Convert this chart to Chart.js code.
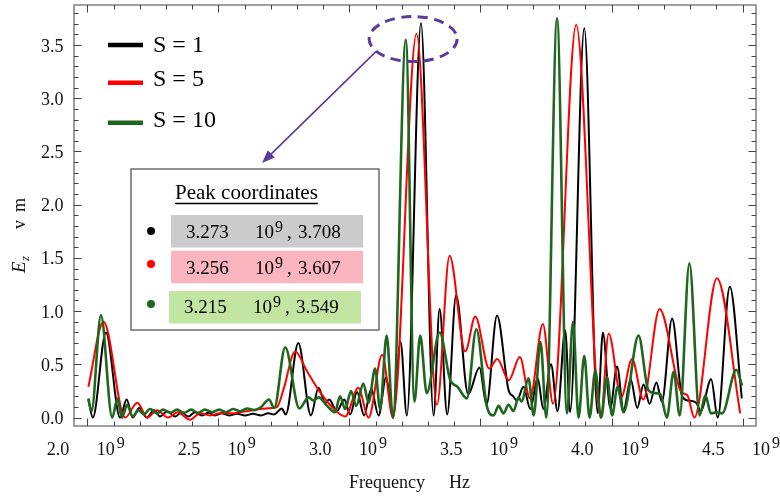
<!DOCTYPE html>
<html lang="en">
<head>
<meta charset="UTF-8">
<title>Ez vs frequency</title>
<style>
  body { margin: 0; background: #ffffff; }
  #wrap { width: 780px; height: 497px; }
</style>
</head>
<body>
<div id="wrap"><canvas id="chart"></canvas></div>
<script src="https://cdn.jsdelivr.net/npm/chart.js"></script>
<script>
// frequency in units of 10^9 Hz, Ez
const freqS1 = [2.004, 2.021, 2.071, 2.125, 2.150, 2.173, 2.198, 2.227, 2.255, 2.277, 2.305, 2.335, 2.360, 2.385,
  2.411, 2.437, 2.462, 2.487, 2.513, 2.541, 2.571, 2.602, 2.632, 2.663, 2.690, 2.713, 2.742, 2.757, 2.805, 2.853,
  2.882, 2.907, 2.923, 2.952, 2.980, 3.003, 3.029, 3.056, 3.083, 3.111, 3.140, 3.166, 3.195, 3.219, 3.273, 3.321,
  3.344, 3.373, 3.407, 3.453, 3.496, 3.523, 3.563, 3.607, 3.625, 3.639, 3.664, 3.690, 3.718, 3.740, 3.769, 3.794,
  3.823, 3.842, 3.896, 3.947, 3.967, 3.995, 4.021, 4.046, 4.073, 4.098, 4.122, 4.145, 4.171, 4.192, 4.231, 4.269,
  4.293, 4.323, 4.340, 4.380, 4.405, 4.451, 4.497];
const ezS1 = [0.17, 0.00, 0.80, 0.00, 0.17, 0.00, 0.09, 0.00, 0.07, 0.01, 0.06, 0.01, 0.05, 0.01,
  0.05, 0.02, 0.045, 0.02, 0.04, 0.02, 0.035, 0.02, 0.035, 0.02, 0.04, 0.03, 0.085, 0.03, 0.70, 0.02,
  0.28, 0.14, 0.17, 0.06, 0.17, 0.03, 0.24, 0.02, 0.27, 0.02, 0.38, 0.00, 0.71, 0.02, 3.708, 0.02,
  1.02, 0.03, 1.15, 0.22, 0.47, 0.12, 0.96, 0.26, 0.20, 0.16, 0.29, 0.08, 0.37, 0.08, 0.50, 0.06,
  0.82, 0.05, 3.66, 0.04, 0.80, 0.09, 0.48, 0.07, 0.36, 0.09, 0.31, 0.13, 0.33, 0.15, 0.93, 0.20,
  0.16, 0.14, 0.06, 0.36, 0.00, 1.23, 0.18];

const freqS5 = [2.004, 2.062, 2.144, 2.191, 2.229, 2.266, 2.308, 2.344, 2.392, 2.430, 2.468, 2.506, 2.552, 2.606,
  2.659, 2.705, 2.724, 2.748, 2.793, 2.837, 2.882, 2.926, 2.984, 3.034, 3.073, 3.125, 3.166, 3.256, 3.334, 3.382,
  3.442, 3.480, 3.533, 3.564, 3.608, 3.650, 3.689, 3.738, 3.777, 3.865, 3.959, 3.989, 4.037, 4.078, 4.121, 4.183,
  4.266, 4.289, 4.316, 4.402, 4.491];
const ezS5 = [0.29, 0.90, 0.00, 0.14, 0.00, 0.07, 0.00, 0.05, -0.02, 0.04, 0.02, 0.04, 0.04, 0.06,
  0.08, 0.09, 0.10, 0.26, 0.62, 0.44, 0.26, 0.12, 0.01, 0.28, 0.00, 0.59, 0.00, 3.607, 0.12, 1.52,
  0.62, 0.95, 0.46, 0.55, 0.35, 0.57, 0.18, 0.88, 0.13, 3.69, 0.00, 0.79, 0.19, 0.55, 0.17, 1.02,
  0.24, 0.21, 0.00, 1.31, 0.04];

const freqS10 = [2.004, 2.016, 2.052, 2.095, 2.115, 2.132, 2.152, 2.173, 2.195, 2.216, 2.239, 2.266, 2.289, 2.316,
  2.342, 2.369, 2.396, 2.422, 2.449, 2.476, 2.503, 2.529, 2.556, 2.583, 2.610, 2.636, 2.663, 2.693, 2.713, 2.755,
  2.809, 2.844, 2.863, 2.882, 2.915, 2.945, 2.964, 2.984, 3.006, 3.026, 3.053, 3.073, 3.098, 3.117, 3.142, 3.166,
  3.215, 3.248, 3.270, 3.295, 3.344, 3.385, 3.412, 3.448, 3.484, 3.524, 3.550, 3.569, 3.588, 3.607, 3.626, 3.645,
  3.657, 3.683, 3.703, 3.729, 3.751, 3.792, 3.830, 3.853, 3.874, 3.896, 3.916, 3.938, 3.960, 3.983, 4.002, 4.023,
  4.046, 4.103, 4.140, 4.163, 4.186, 4.211, 4.237, 4.260, 4.297, 4.336, 4.358, 4.379, 4.403, 4.422, 4.476, 4.498];
const ezS10 = [0.18, 0.06, 0.96, 0.00, 0.18, 0.00, 0.12, 0.01, 0.07, 0.03, 0.08, 0.04, 0.075, 0.045,
  0.075, 0.045, 0.075, 0.045, 0.075, 0.05, 0.075, 0.05, 0.08, 0.06, 0.085, 0.07, 0.10, 0.17, 0.09, 0.66,
  0.085, 0.19, 0.16, 0.19, 0.11, 0.05, 0.20, 0.08, 0.25, 0.11, 0.32, 0.14, 0.46, 0.08, 0.77, 0.00,
  3.549, 0.15, 0.77, 0.23, 0.80, 0.35, 0.29, 0.18, 0.83, 0.11, 0.02, 0.11, 0.04, 0.12, 0.06, 0.19,
  0.15, 0.37, 0.02, 0.71, 0.00, 3.75, 0.04, 0.90, 0.00, 0.58, 0.00, 0.44, 0.00, 0.38, 0.02, 0.29,
  0.05, 0.77, 0.26, 0.23, 0.22, 0.00, 0.43, 0.02, 1.45, 0.02, 0.21, 0.04, 0.05, 0.04, 0.45, 0.30];

const xTicks = [2.0, 2.5, 3.0, 3.5, 4.0, 4.5];
const yTicks = [0.0, 0.5, 1.0, 1.5, 2.0, 2.5, 3.0, 3.5];
const seriesNames = ['S = 1', 'S = 5', 'S = 10'];
const peakFreq = ['3.273', '3.256', '3.215'];
const peakEz = ['3.708', '3.607', '3.549'];

const serif = '"Liberation Serif", "Times New Roman", serif';
const colors = ['#000000', '#ff0000', '#1f661f'];
const boxFills = ['#cbcbcb', '#fab5be', '#c3e5a2'];
const purple = '#5a3a9a';

function pts(xs, ys) {
    return xs.map((x, i) => ({ x: x, y: ys[i] }));
}

// number, blank where the times sign would be, then 10 with superscript 9
function drawPow(ctx, x0, base, num, size) {
    ctx.textAlign = 'left';
    ctx.font = size + 'px ' + serif;
    ctx.fillText(num, x0, base);
    ctx.fillText('10', x0 + 50, base);
    ctx.font = (size - 2) + 'px ' + serif;
    ctx.fillText('9', x0 + 70, base - 7);
}

const decor = {
    id: 'decor',
    afterDatasetsDraw(chart) {
        const ctx = chart.ctx, a = chart.chartArea;
        const sx = chart.scales.x, sy = chart.scales.y;
        ctx.save();

        // frame
        ctx.strokeStyle = '#808080';
        ctx.lineWidth = 1.5;
        ctx.strokeRect(a.left, a.top, a.right - a.left, a.bottom - a.top);

        // inward ticks
        ctx.strokeStyle = '#444';
        ctx.lineWidth = 1;
        ctx.beginPath();
        for (let k = 20; k <= 45; k++) {
            const px = Math.round(sx.getPixelForValue(k / 10)) + 0.5;
            const len = k % 5 === 0 ? 7.5 : 4.5;
            ctx.moveTo(px, a.bottom); ctx.lineTo(px, a.bottom - len);
            ctx.moveTo(px, a.top); ctx.lineTo(px, a.top + len);
        }
        for (let k = 0; k <= 38; k++) {
            const py = Math.round(sy.getPixelForValue(k / 10)) + 0.5;
            const len = k % 5 === 0 ? 7.5 : 4.5;
            ctx.moveTo(a.left, py); ctx.lineTo(a.left + len, py);
            ctx.moveTo(a.right, py); ctx.lineTo(a.right - len, py);
        }
        ctx.stroke();

        // tick labels
        ctx.fillStyle = '#111';
        ctx.font = '18px ' + serif;
        ctx.textAlign = 'right';
        yTicks.forEach(v => {
            ctx.fillText(v.toFixed(1), a.left - 10.5, sy.getPixelForValue(v) + 6.5);
        });
        xTicks.forEach(v => {
            drawPow(ctx, sx.getPixelForValue(v) - 40.5, a.bottom + 28.5, v.toFixed(1), 18);
        });

        // axis titles
        ctx.textAlign = 'left';
        ctx.font = '18px ' + serif;
        ctx.fillText('Frequency', 349, 488);
        ctx.fillText('Hz', 449, 488);
        ctx.save();
        ctx.translate(25, 273);
        ctx.rotate(-Math.PI / 2);
        ctx.font = 'italic 19px ' + serif;
        ctx.fillText('E', 0, 0);
        ctx.font = 'italic 13px ' + serif;
        ctx.fillText('z', 12, 4);
        ctx.font = '18px ' + serif;
        ctx.fillText('v', 44, 0);
        ctx.fillText('m', 61, 0);
        ctx.restore();

        // legend
        const legLineY = [45, 82.7, 122.7];
        const legTextY = [52, 86, 126.5];
        seriesNames.forEach((name, i) => {
            ctx.strokeStyle = colors[i];
            ctx.lineWidth = 4.5;
            ctx.beginPath();
            ctx.moveTo(108, legLineY[i]); ctx.lineTo(143, legLineY[i]);
            ctx.stroke();
            ctx.fillStyle = '#000';
            ctx.font = '24px ' + serif;
            ctx.fillText(name, 153, legTextY[i]);
        });

        // dashed ellipse around the first group of peaks
        const ex = sx.getPixelForValue(3.243), ey = sy.getPixelForValue(3.556);
        const rx = 44, ry = 22.5;
        ctx.strokeStyle = purple;
        ctx.lineWidth = 3;
        ctx.setLineDash([10, 6.5]);
        ctx.beginPath();
        ctx.ellipse(ex, ey, rx, ry, 0, 0, Math.PI * 2);
        ctx.stroke();
        ctx.setLineDash([]);

        // inset box
        const bx = 131, by = 169, bw = 248, bh = 161;
        ctx.fillStyle = '#fff';
        ctx.fillRect(bx, by, bw, bh);
        ctx.strokeStyle = '#555';
        ctx.lineWidth = 1.3;
        ctx.strokeRect(bx, by, bw, bh);

        // arrow from ellipse to inset
        const th = 147 * Math.PI / 180;
        const x1 = ex + rx * Math.cos(th), y1 = ey + ry * Math.sin(th);
        const x2 = 262, y2 = 163;
        const ang = Math.atan2(y2 - y1, x2 - x1);
        ctx.strokeStyle = purple;
        ctx.lineWidth = 1.6;
        ctx.beginPath();
        ctx.moveTo(x1, y1);
        ctx.lineTo(x2 - 8 * Math.cos(ang), y2 - 8 * Math.sin(ang));
        ctx.stroke();
        ctx.fillStyle = purple;
        ctx.beginPath();
        ctx.moveTo(x2, y2);
        ctx.lineTo(x2 - 13 * Math.cos(ang) + 5 * Math.sin(ang), y2 - 13 * Math.sin(ang) - 5 * Math.cos(ang));
        ctx.lineTo(x2 - 13 * Math.cos(ang) - 5 * Math.sin(ang), y2 - 13 * Math.sin(ang) + 5 * Math.cos(ang));
        ctx.closePath();
        ctx.fill();

        // inset title
        ctx.fillStyle = '#000';
        ctx.font = '21px ' + serif;
        ctx.textAlign = 'left';
        const title = 'Peak coordinates';
        const tw = ctx.measureText(title).width;
        ctx.fillText(title, 175, 199);
        ctx.strokeStyle = '#000';
        ctx.lineWidth = 1.5;
        ctx.beginPath();
        ctx.moveTo(175, 203.5); ctx.lineTo(175 + tw, 203.5);
        ctx.stroke();

        // inset rows
        const rowTop = [215, 250.7, 291];
        const rowLeft = [171, 171, 169];
        const rowBase = [238.3, 274, 313.3];
        const dotY = [231, 264, 304];
        peakFreq.forEach((f, i) => {
            ctx.fillStyle = boxFills[i];
            ctx.fillRect(rowLeft[i], rowTop[i], 192, 32.5);
            ctx.fillStyle = colors[i];
            ctx.beginPath();
            ctx.arc(151, dotY[i], 4, 0, Math.PI * 2);
            ctx.fill();
            ctx.fillStyle = '#000';
            const x0 = rowLeft[i] + 15;
            ctx.font = '19px ' + serif;
            ctx.fillText(f, x0, rowBase[i]);
            ctx.fillText('10', x0 + 69, rowBase[i]);
            ctx.fillText(',', x0 + 101, rowBase[i]);
            ctx.fillText(peakEz[i], x0 + 112, rowBase[i]);
            ctx.font = '16px ' + serif;
            ctx.fillText('9', x0 + 89, rowBase[i] - 6);
        });

        ctx.restore();
    }
};

const lineStyle = (label, xs, ys, i, w, order) => ({
    label: label,
    data: pts(xs, ys),
    borderColor: colors[i],
    borderWidth: w,
    pointRadius: 0,
    fill: false,
    cubicInterpolationMode: 'monotone',
    order: order
});

new Chart(document.getElementById('chart'), {
    type: 'line',
    data: {
        datasets: [
            lineStyle(seriesNames[0], freqS1, ezS1, 0, 2, 2),
            lineStyle(seriesNames[1], freqS5, ezS5, 1, 2, 1),
            lineStyle(seriesNames[2], freqS10, ezS10, 2, 2.6, 0)
        ]
    },
    options: {
        responsive: true,
        maintainAspectRatio: false,
        animation: false,
        layout: { padding: { left: 74, top: 5, right: 24, bottom: 71 } },
        plugins: { legend: { display: false }, tooltip: { enabled: false } },
        scales: {
            x: { type: 'linear', min: 1.9492, max: 4.5511, display: false },
            y: { min: -0.079, max: 3.876, display: false }
        }
    },
    plugins: [decor]
});
</script>
</body>
</html>
